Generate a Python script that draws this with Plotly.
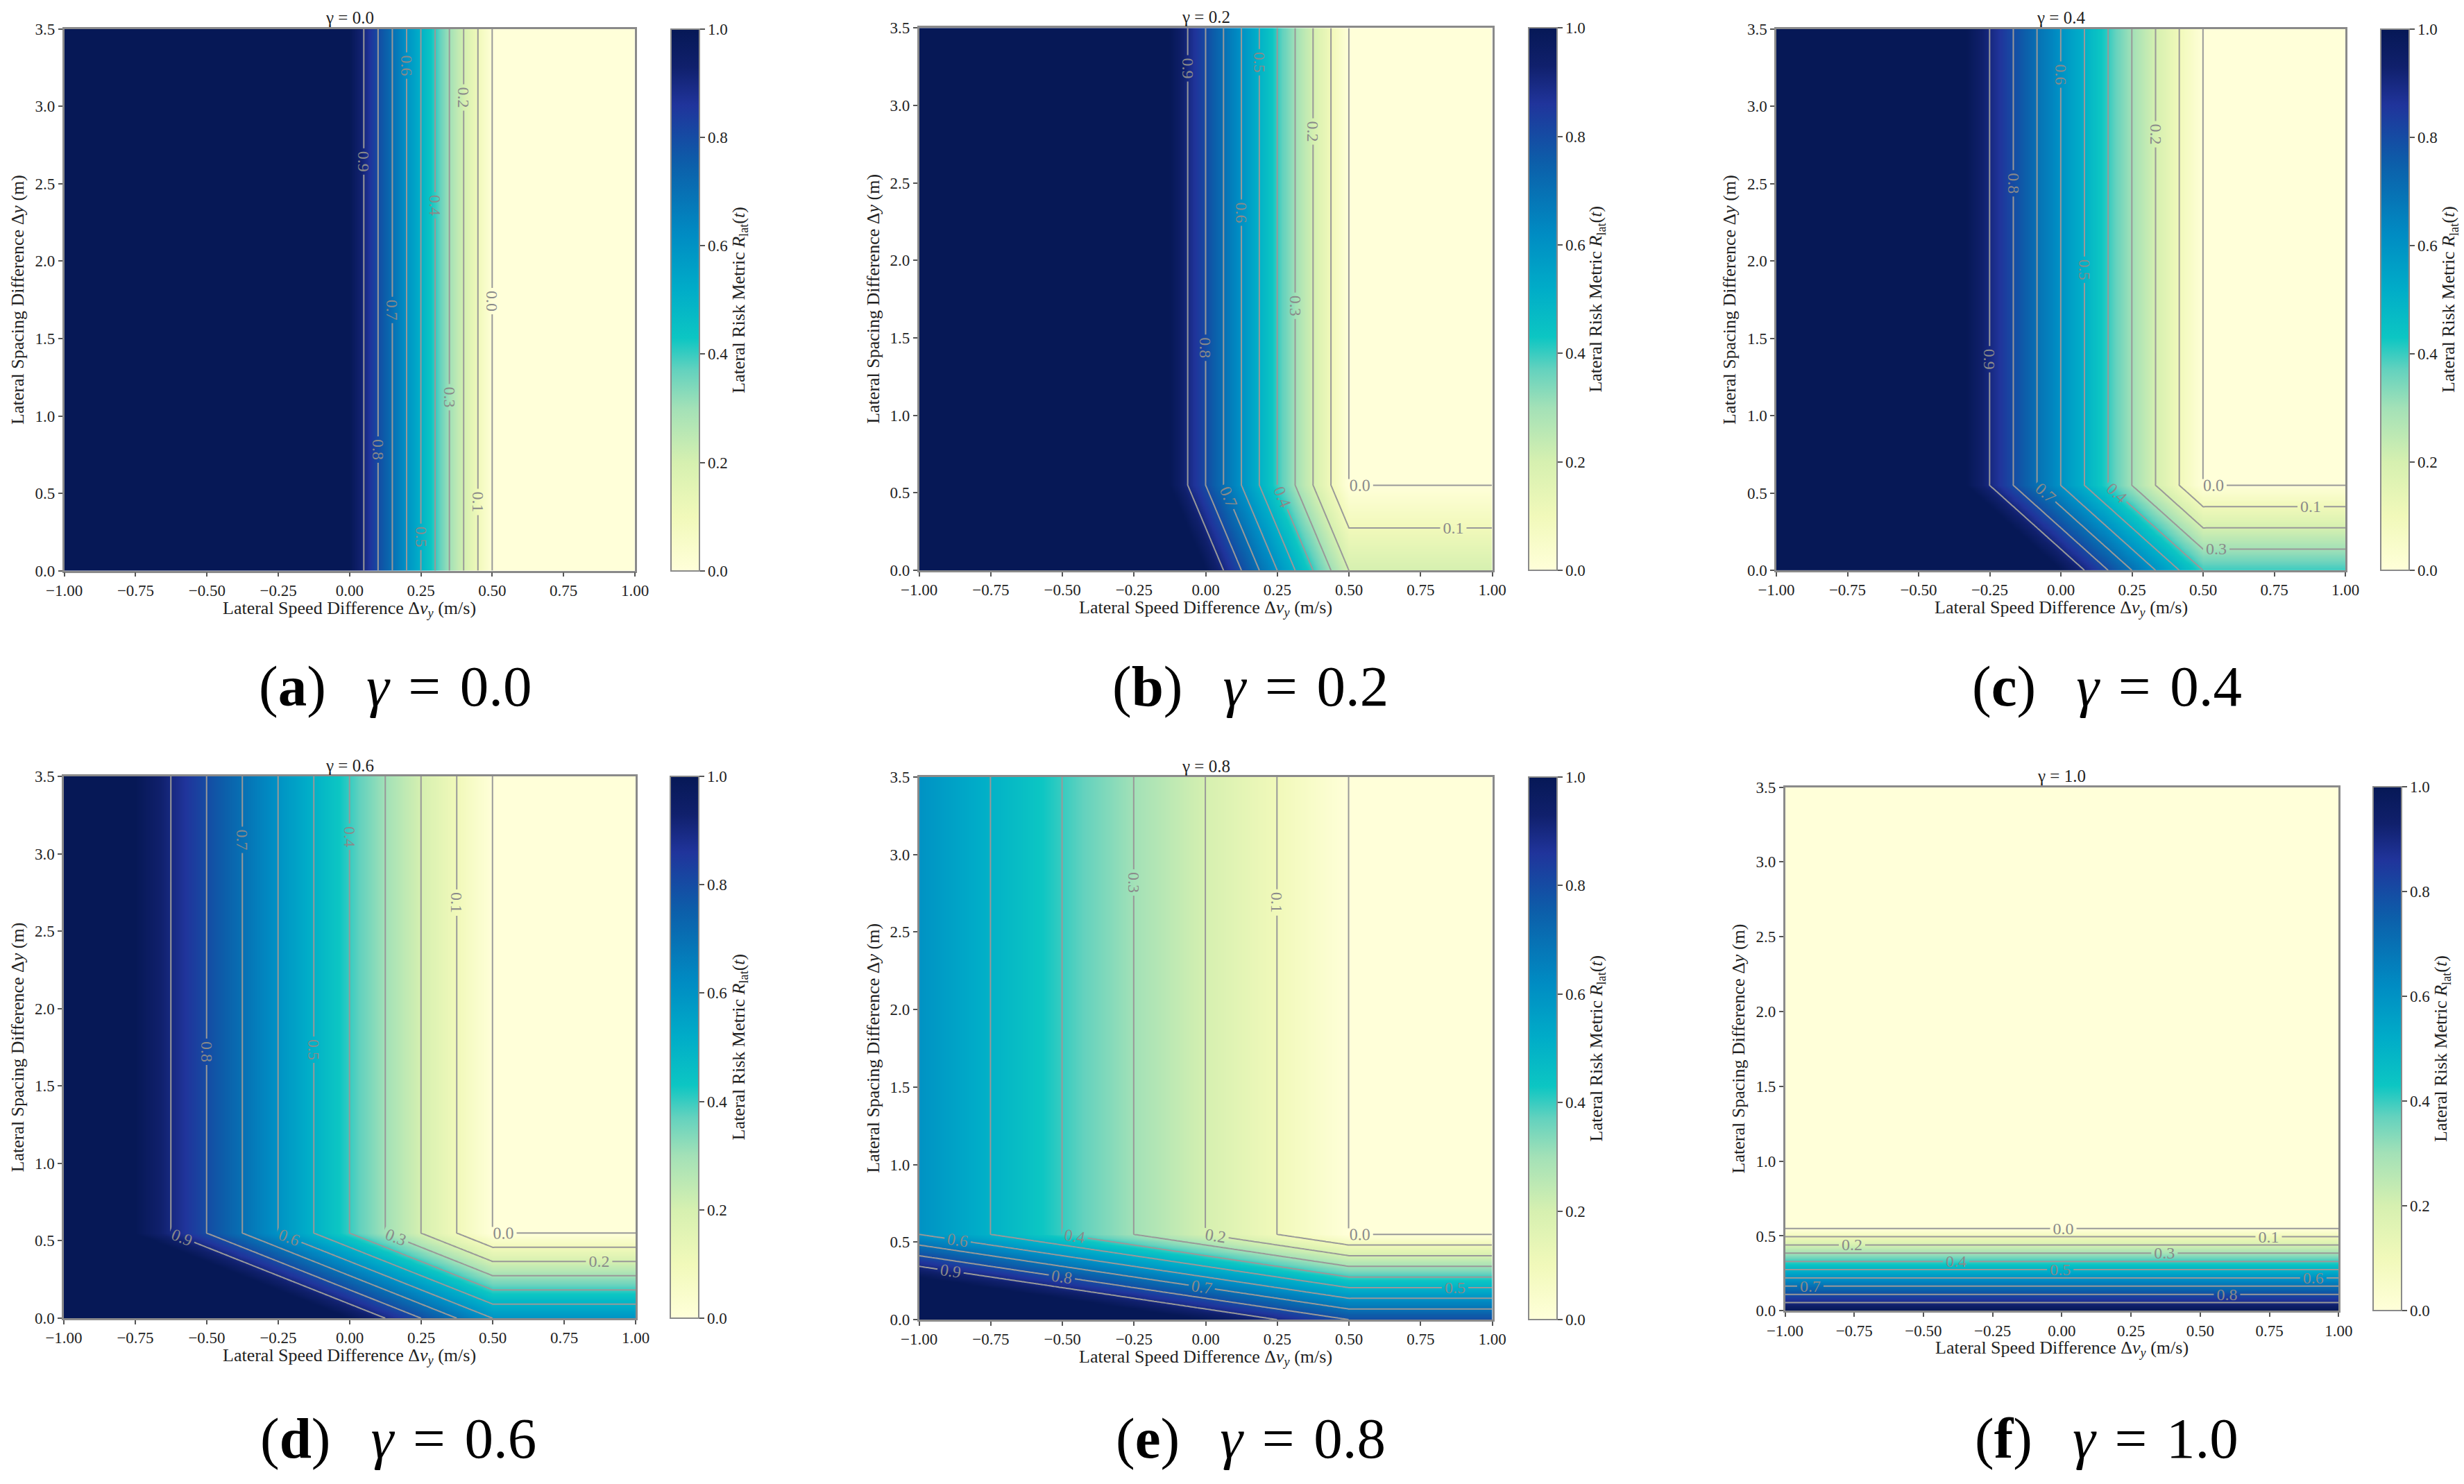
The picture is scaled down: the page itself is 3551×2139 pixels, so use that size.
import numpy as np
import plotly.graph_objects as go

# ---------------- data ----------------
gammas = [0.0, 0.2, 0.4, 0.6, 0.8, 1.0]
panel_letters = ["a", "b", "c", "d", "e", "f"]

speed_dv = [-1.0, -0.5, 0.0, 0.25, 0.5, 1.0]
speed_risk = [3.0, 2.0, 1.0, 0.5, 0.0, 0.0]

# spacing term of the risk metric vs lateral spacing difference
spacing_dy = [0.0, 0.55, 3.5]
spacing_risk = [1.0, 0.0, 0.0]

x_ticks = [-1.0, -0.75, -0.5, -0.25, 0.0, 0.25, 0.5, 0.75, 1.0]
y_ticks = [0.0, 0.5, 1.0, 1.5, 2.0, 2.5, 3.0, 3.5]
cbar_ticks = [0.0, 0.2, 0.4, 0.6, 0.8, 1.0]
contour_start, contour_end, contour_step = 0.0, 0.9, 0.1

# ---------------- layout (pixels) ----------------
W, H = 3551, 2139
# (left, right, top, bottom) of each plot area
panel_px = [
    (92.7, 915.0, 41.7, 822.7),
    (1324.7, 2150.5, 40.2, 822.0),
    (2560.0, 3380.0, 41.9, 822.0),
    (92.0, 916.0, 1119.0, 1900.0),
    (1324.7, 2150.5, 1120.0, 1902.0),
    (2572.5, 3370.4, 1134.5, 1889.3),
]
cbar_left_px = [966.7, 2202.5, 3431.0, 966.0, 2202.5, 3420.0]
cbar_thick = 41
caption_px = [(570, 989), (1802, 989), (3036, 989), (574, 2073), (1802, 2073), (3036, 2073)]

colorscale = [
    [0.0, "rgb(255,255,217)"],
    [0.1, "rgb(241,249,186)"],
    [0.2, "rgb(214,240,176)"],
    [0.3, "rgb(163,225,183)"],
    [0.37, "rgb(100,210,190)"],
    [0.43, "rgb(12,198,195)"],
    [0.52, "rgb(0,172,200)"],
    [0.62, "rgb(0,140,195)"],
    [0.75, "rgb(12,95,170)"],
    [0.86, "rgb(32,52,155)"],
    [0.93, "rgb(16,32,108)"],
    [1.0, "rgb(6,24,86)"],
]

FONT = "Liberation Serif"
TICK_FONT = dict(family=FONT, size=23, color="#222222")
TITLE_FONT = dict(family=FONT, size=26, color="#222222")

# grid on which the table for the library is built
xg = np.round(np.linspace(-1.0, 1.0, 201), 4)
yg = np.concatenate([np.round(np.arange(0.0, 0.805, 0.01), 3), np.round(np.arange(0.9, 3.505, 0.1), 3)])
speed_on_grid = np.interp(xg, speed_dv, speed_risk)
spacing_on_grid = np.interp(yg, spacing_dy, spacing_risk)


def px_x(v):
    return v / W


def px_y(v):
    return 1 - v / H


fig = go.Figure()
annotations = []
layout_axes = {}

for i, g in enumerate(gammas):
    L, R, T, B = panel_px[i]
    sx = "" if i == 0 else str(i + 1)
    xref, yref = "x" + sx, "y" + sx
    Z = np.clip((1 - g) * speed_on_grid[None, :] + g * spacing_on_grid[:, None], 0.0, 1.0)
    Z = np.round(Z, 4)

    cb_len = (B - T) / H
    fig.add_trace(go.Heatmap(
        x=xg, y=yg, z=Z, zmin=0, zmax=1, zsmooth="best",
        colorscale=colorscale, xaxis=xref, yaxis=yref, hoverinfo="skip",
        colorbar=dict(
            x=px_x(cbar_left_px[i]), xanchor="left", xref="paper",
            y=px_y((T + B) / 2), yanchor="middle", yref="paper",
            len=cb_len, lenmode="fraction",
            thickness=cbar_thick, thicknessmode="pixels",
            xpad=0, ypad=0, outlinewidth=2, outlinecolor="#8a8a8a",
            tickvals=cbar_ticks, tickformat=".1f", ticks="outside",
            ticklen=7, tickwidth=2, tickcolor="#555555", tickfont=TICK_FONT,
        ),
    ))
    fig.add_trace(go.Contour(
        x=xg, y=yg, z=Z, xaxis=xref, yaxis=yref, showscale=False,
        autocontour=False, hoverinfo="skip",
        contours=dict(coloring="none", start=contour_start + 0.0005,
                      end=contour_end + 0.0005, size=contour_step,
                      showlabels=True, labelformat=".1f",
                      labelfont=dict(family=FONT, size=24, color="#8a8a8a")),
        line=dict(color="#999999", width=2),
    ))

    axis_common = dict(showline=True, mirror=True, linecolor="#8a8a8a", linewidth=2.5,
                       showgrid=False, zeroline=False, ticks="outside", ticklen=6,
                       tickwidth=2, tickcolor="#555555", tickfont=TICK_FONT)
    layout_axes["xaxis" + sx] = dict(domain=[px_x(L), px_x(R)], range=[-1, 1],
                                     tickvals=x_ticks, tickformat=".2f", anchor=yref,
                                     automargin=False, **axis_common)
    layout_axes["yaxis" + sx] = dict(domain=[px_y(B), px_y(T)], range=[0, 3.5],
                                     tickvals=y_ticks, tickformat=".1f", anchor=xref,
                                     automargin=False, **axis_common)

    cx = (L + R) / 2
    cy = (T + B) / 2
    # panel title
    annotations.append(dict(text=f"γ = {g:.1f}", x=px_x(cx), y=px_y(T - 16),
                            xref="paper", yref="paper", showarrow=False,
                            xanchor="center", yanchor="middle",
                            font=dict(family=FONT, size=25, color="#222222")))
    # x-axis title
    annotations.append(dict(text="Lateral Speed Difference Δ<i>v<sub>y</sub></i> (m/s)",
                            x=px_x(cx), y=px_y(B + 55), xref="paper", yref="paper",
                            showarrow=False, xanchor="center", yanchor="middle",
                            font=TITLE_FONT))
    # y-axis title
    annotations.append(dict(text="Lateral Spacing Difference Δ<i>y</i> (m)",
                            x=px_x(L - 67), y=px_y(cy), xref="paper", yref="paper",
                            showarrow=False, xanchor="center", yanchor="middle",
                            textangle=-90, font=TITLE_FONT))
    # colorbar title
    annotations.append(dict(text="Lateral Risk Metric <i>R</i><sub>lat</sub>(<i>t</i>)",
                            x=px_x(cbar_left_px[i] + cbar_thick + 58), y=px_y(cy),
                            xref="paper", yref="paper", showarrow=False,
                            xanchor="center", yanchor="middle", textangle=-90,
                            font=TITLE_FONT))
    # caption
    capx, capy = caption_px[i]
    annotations.append(dict(
        text=f"(<b>{panel_letters[i]}</b>)\u2002\u2009<i>γ</i>\u2004=\u2004{g:.1f}",
        x=px_x(capx), y=px_y(capy), xref="paper", yref="paper",
        showarrow=False, xanchor="center", yanchor="middle",
        font=dict(family=FONT, size=83, color="#000000")))

fig.update_layout(
    width=W, height=H, autosize=False,
    margin=dict(l=0, r=0, t=0, b=0, autoexpand=False),
    paper_bgcolor="white", plot_bgcolor="white",
    showlegend=False, annotations=annotations,
    font=dict(family=FONT),
    **layout_axes,
)

fig.write_html("out.html", config={"displayModeBar": False},
               post_script="document.body.style.margin='0px';")
